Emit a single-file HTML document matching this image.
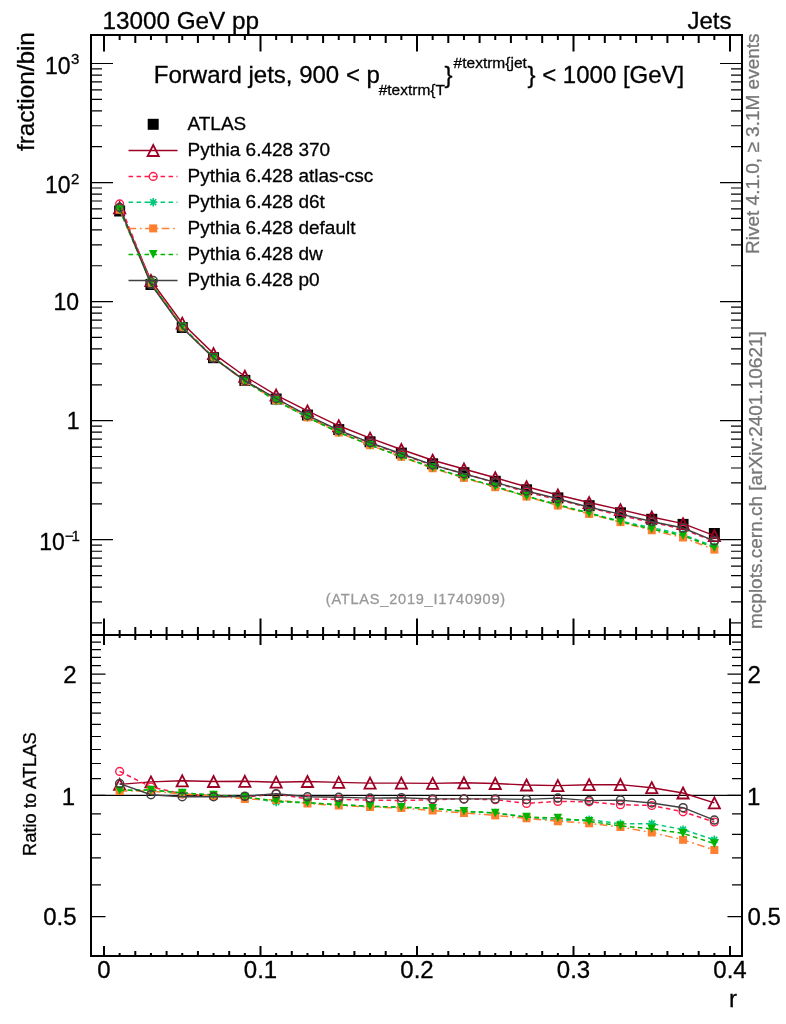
<!DOCTYPE html><html><head><meta charset="utf-8"><style>html,body{margin:0;padding:0;background:#fff;overflow:hidden}svg{display:block;will-change:transform}text{font-family:"Liberation Sans",sans-serif;stroke:#000;stroke-width:0.3px}</style></head><body>
<svg width="786" height="1024" viewBox="0 0 786 1024">
<rect width="786" height="1024" fill="#fff"/>
<path d="M104.00 35v16.5M104.00 635v-16.5M104.00 635v10M104.00 956v-10M119.65 35v5M119.65 635v-5M119.65 635v3M119.65 956v-3M135.30 35v8M135.30 635v-8M135.30 635v5M135.30 956v-5M150.95 35v5M150.95 635v-5M150.95 635v3M150.95 956v-3M166.60 35v8M166.60 635v-8M166.60 635v5M166.60 956v-5M182.25 35v5M182.25 635v-5M182.25 635v3M182.25 956v-3M197.90 35v8M197.90 635v-8M197.90 635v5M197.90 956v-5M213.55 35v5M213.55 635v-5M213.55 635v3M213.55 956v-3M229.20 35v8M229.20 635v-8M229.20 635v5M229.20 956v-5M244.85 35v5M244.85 635v-5M244.85 635v3M244.85 956v-3M260.50 35v16.5M260.50 635v-16.5M260.50 635v10M260.50 956v-10M276.15 35v5M276.15 635v-5M276.15 635v3M276.15 956v-3M291.80 35v8M291.80 635v-8M291.80 635v5M291.80 956v-5M307.45 35v5M307.45 635v-5M307.45 635v3M307.45 956v-3M323.10 35v8M323.10 635v-8M323.10 635v5M323.10 956v-5M338.75 35v5M338.75 635v-5M338.75 635v3M338.75 956v-3M354.40 35v8M354.40 635v-8M354.40 635v5M354.40 956v-5M370.05 35v5M370.05 635v-5M370.05 635v3M370.05 956v-3M385.70 35v8M385.70 635v-8M385.70 635v5M385.70 956v-5M401.35 35v5M401.35 635v-5M401.35 635v3M401.35 956v-3M417.00 35v16.5M417.00 635v-16.5M417.00 635v10M417.00 956v-10M432.65 35v5M432.65 635v-5M432.65 635v3M432.65 956v-3M448.30 35v8M448.30 635v-8M448.30 635v5M448.30 956v-5M463.95 35v5M463.95 635v-5M463.95 635v3M463.95 956v-3M479.60 35v8M479.60 635v-8M479.60 635v5M479.60 956v-5M495.25 35v5M495.25 635v-5M495.25 635v3M495.25 956v-3M510.90 35v8M510.90 635v-8M510.90 635v5M510.90 956v-5M526.55 35v5M526.55 635v-5M526.55 635v3M526.55 956v-3M542.20 35v8M542.20 635v-8M542.20 635v5M542.20 956v-5M557.85 35v5M557.85 635v-5M557.85 635v3M557.85 956v-3M573.50 35v16.5M573.50 635v-16.5M573.50 635v10M573.50 956v-10M589.15 35v5M589.15 635v-5M589.15 635v3M589.15 956v-3M604.80 35v8M604.80 635v-8M604.80 635v5M604.80 956v-5M620.45 35v5M620.45 635v-5M620.45 635v3M620.45 956v-3M636.10 35v8M636.10 635v-8M636.10 635v5M636.10 956v-5M651.75 35v5M651.75 635v-5M651.75 635v3M651.75 956v-3M667.40 35v8M667.40 635v-8M667.40 635v5M667.40 956v-5M683.05 35v5M683.05 635v-5M683.05 635v3M683.05 956v-3M698.70 35v8M698.70 635v-8M698.70 635v5M698.70 956v-5M714.35 35v5M714.35 635v-5M714.35 635v3M714.35 956v-3M730.00 35v16.5M730.00 635v-16.5M730.00 635v10M730.00 956v-10" stroke="#000" stroke-width="2" fill="none"/>
<path d="M91 622.91h11M742 622.91h-11M91 601.95h11M742 601.95h-11M91 587.07h11M742 587.07h-11M91 575.54h11M742 575.54h-11M91 566.11h11M742 566.11h-11M91 558.14h11M742 558.14h-11M91 551.24h11M742 551.24h-11M91 545.15h11M742 545.15h-11M91 539.70h22M742 539.70h-22M91 503.86h11M742 503.86h-11M91 482.90h11M742 482.90h-11M91 468.02h11M742 468.02h-11M91 456.49h11M742 456.49h-11M91 447.06h11M742 447.06h-11M91 439.09h11M742 439.09h-11M91 432.19h11M742 432.19h-11M91 426.10h11M742 426.10h-11M91 420.65h22M742 420.65h-22M91 384.81h11M742 384.81h-11M91 363.85h11M742 363.85h-11M91 348.97h11M742 348.97h-11M91 337.44h11M742 337.44h-11M91 328.01h11M742 328.01h-11M91 320.04h11M742 320.04h-11M91 313.14h11M742 313.14h-11M91 307.05h11M742 307.05h-11M91 301.60h22M742 301.60h-22M91 265.76h11M742 265.76h-11M91 244.80h11M742 244.80h-11M91 229.92h11M742 229.92h-11M91 218.39h11M742 218.39h-11M91 208.96h11M742 208.96h-11M91 200.99h11M742 200.99h-11M91 194.09h11M742 194.09h-11M91 188.00h11M742 188.00h-11M91 182.55h22M742 182.55h-22M91 146.71h11M742 146.71h-11M91 125.75h11M742 125.75h-11M91 110.87h11M742 110.87h-11M91 99.34h11M742 99.34h-11M91 89.91h11M742 89.91h-11M91 81.94h11M742 81.94h-11M91 75.04h11M742 75.04h-11M91 68.95h11M742 68.95h-11M91 63.50h22M742 63.50h-22M91 916.72h14.5M742 916.72h-14.5M91 884.81h10M742 884.81h-10M91 857.83h10M742 857.83h-10M91 834.45h10M742 834.45h-10M91 813.84h10M742 813.84h-10M91 795.40h14.5M742 795.40h-14.5M91 778.72h10M742 778.72h-10M91 763.49h10M742 763.49h-10M91 749.48h10M742 749.48h-10M91 736.51h10M742 736.51h-10M91 724.44h10M742 724.44h-10M91 713.14h10M742 713.14h-10M91 702.53h10M742 702.53h-10M91 692.53h10M742 692.53h-10M91 683.06h10M742 683.06h-10M91 674.08h14.5M742 674.08h-14.5M91 665.55h10M742 665.55h-10M91 657.40h10M742 657.40h-10M91 649.62h10M742 649.62h-10M91 642.17h10M742 642.17h-10" stroke="#000" stroke-width="1.2" fill="none"/>
<path d="M91 795.4H742" stroke="#000" stroke-width="1.2"/>
<g>
<rect x="114.15" y="205.50" width="11" height="11" fill="#000"/>
<rect x="145.45" y="279.00" width="11" height="11" fill="#000"/>
<rect x="176.75" y="322.00" width="11" height="11" fill="#000"/>
<rect x="208.05" y="352.20" width="11" height="11" fill="#000"/>
<rect x="239.35" y="374.90" width="11" height="11" fill="#000"/>
<rect x="270.65" y="393.50" width="11" height="11" fill="#000"/>
<rect x="301.95" y="409.50" width="11" height="11" fill="#000"/>
<rect x="333.25" y="424.10" width="11" height="11" fill="#000"/>
<rect x="364.55" y="436.30" width="11" height="11" fill="#000"/>
<rect x="395.85" y="447.60" width="11" height="11" fill="#000"/>
<rect x="427.15" y="458.30" width="11" height="11" fill="#000"/>
<rect x="458.45" y="467.20" width="11" height="11" fill="#000"/>
<rect x="489.75" y="475.80" width="11" height="11" fill="#000"/>
<rect x="521.05" y="484.30" width="11" height="11" fill="#000"/>
<rect x="552.35" y="492.40" width="11" height="11" fill="#000"/>
<rect x="583.65" y="500.20" width="11" height="11" fill="#000"/>
<rect x="614.95" y="507.30" width="11" height="11" fill="#000"/>
<rect x="646.25" y="513.80" width="11" height="11" fill="#000"/>
<rect x="677.55" y="518.90" width="11" height="11" fill="#000"/>
<rect x="708.85" y="528.00" width="11" height="11" fill="#000"/>
<polyline points="119.65,207.75 150.95,280.51 182.25,323.19 213.55,353.59 244.85,376.23 276.15,395.10 307.45,410.89 338.75,425.76 370.05,438.17 401.35,449.47 432.65,460.26 463.95,468.98 495.25,477.78 526.55,486.73 557.85,495.00 589.15,502.54 620.45,509.61 651.75,517.03 683.05,523.69 714.35,535.72" fill="none" stroke="#9c0024" stroke-width="1.4"/>
<path d="M119.65 202.25L125.25 213.25H114.05Z" fill="none" stroke="#9c0024" stroke-width="1.8" stroke-linejoin="miter"/>
<path d="M150.95 275.01L156.55 286.01H145.35Z" fill="none" stroke="#9c0024" stroke-width="1.8" stroke-linejoin="miter"/>
<path d="M182.25 317.69L187.85 328.69H176.65Z" fill="none" stroke="#9c0024" stroke-width="1.8" stroke-linejoin="miter"/>
<path d="M213.55 348.09L219.15 359.09H207.95Z" fill="none" stroke="#9c0024" stroke-width="1.8" stroke-linejoin="miter"/>
<path d="M244.85 370.73L250.45 381.73H239.25Z" fill="none" stroke="#9c0024" stroke-width="1.8" stroke-linejoin="miter"/>
<path d="M276.15 389.60L281.75 400.60H270.55Z" fill="none" stroke="#9c0024" stroke-width="1.8" stroke-linejoin="miter"/>
<path d="M307.45 405.39L313.05 416.39H301.85Z" fill="none" stroke="#9c0024" stroke-width="1.8" stroke-linejoin="miter"/>
<path d="M338.75 420.26L344.35 431.26H333.15Z" fill="none" stroke="#9c0024" stroke-width="1.8" stroke-linejoin="miter"/>
<path d="M370.05 432.67L375.65 443.67H364.45Z" fill="none" stroke="#9c0024" stroke-width="1.8" stroke-linejoin="miter"/>
<path d="M401.35 443.97L406.95 454.97H395.75Z" fill="none" stroke="#9c0024" stroke-width="1.8" stroke-linejoin="miter"/>
<path d="M432.65 454.76L438.25 465.76H427.05Z" fill="none" stroke="#9c0024" stroke-width="1.8" stroke-linejoin="miter"/>
<path d="M463.95 463.48L469.55 474.48H458.35Z" fill="none" stroke="#9c0024" stroke-width="1.8" stroke-linejoin="miter"/>
<path d="M495.25 472.28L500.85 483.28H489.65Z" fill="none" stroke="#9c0024" stroke-width="1.8" stroke-linejoin="miter"/>
<path d="M526.55 481.23L532.15 492.23H520.95Z" fill="none" stroke="#9c0024" stroke-width="1.8" stroke-linejoin="miter"/>
<path d="M557.85 489.50L563.45 500.50H552.25Z" fill="none" stroke="#9c0024" stroke-width="1.8" stroke-linejoin="miter"/>
<path d="M589.15 497.04L594.75 508.04H583.55Z" fill="none" stroke="#9c0024" stroke-width="1.8" stroke-linejoin="miter"/>
<path d="M620.45 504.11L626.05 515.11H614.85Z" fill="none" stroke="#9c0024" stroke-width="1.8" stroke-linejoin="miter"/>
<path d="M651.75 511.53L657.35 522.53H646.15Z" fill="none" stroke="#9c0024" stroke-width="1.8" stroke-linejoin="miter"/>
<path d="M683.05 518.19L688.65 529.19H677.45Z" fill="none" stroke="#9c0024" stroke-width="1.8" stroke-linejoin="miter"/>
<path d="M714.35 530.22L719.95 541.22H708.75Z" fill="none" stroke="#9c0024" stroke-width="1.8" stroke-linejoin="miter"/>
<polyline points="119.65,203.91 150.95,282.02 182.25,327.09 213.55,357.88 244.85,380.87 276.15,398.59 307.45,416.06 338.75,430.81 370.05,443.16 401.35,454.61 432.65,465.07 463.95,473.73 495.25,482.57 526.55,492.16 557.85,499.67 589.15,507.59 620.45,515.55 651.75,522.28 683.05,529.24 714.35,541.36" fill="none" stroke="#ff1a4a" stroke-width="1.5" stroke-dasharray="4.6 3.4"/>
<circle cx="119.65" cy="203.91" r="3.9" fill="none" stroke="#ff1a4a" stroke-width="1.4"/>
<circle cx="150.95" cy="282.02" r="3.9" fill="none" stroke="#ff1a4a" stroke-width="1.4"/>
<circle cx="182.25" cy="327.09" r="3.9" fill="none" stroke="#ff1a4a" stroke-width="1.4"/>
<circle cx="213.55" cy="357.88" r="3.9" fill="none" stroke="#ff1a4a" stroke-width="1.4"/>
<circle cx="244.85" cy="380.87" r="3.9" fill="none" stroke="#ff1a4a" stroke-width="1.4"/>
<circle cx="276.15" cy="398.59" r="3.9" fill="none" stroke="#ff1a4a" stroke-width="1.4"/>
<circle cx="307.45" cy="416.06" r="3.9" fill="none" stroke="#ff1a4a" stroke-width="1.4"/>
<circle cx="338.75" cy="430.81" r="3.9" fill="none" stroke="#ff1a4a" stroke-width="1.4"/>
<circle cx="370.05" cy="443.16" r="3.9" fill="none" stroke="#ff1a4a" stroke-width="1.4"/>
<circle cx="401.35" cy="454.61" r="3.9" fill="none" stroke="#ff1a4a" stroke-width="1.4"/>
<circle cx="432.65" cy="465.07" r="3.9" fill="none" stroke="#ff1a4a" stroke-width="1.4"/>
<circle cx="463.95" cy="473.73" r="3.9" fill="none" stroke="#ff1a4a" stroke-width="1.4"/>
<circle cx="495.25" cy="482.57" r="3.9" fill="none" stroke="#ff1a4a" stroke-width="1.4"/>
<circle cx="526.55" cy="492.16" r="3.9" fill="none" stroke="#ff1a4a" stroke-width="1.4"/>
<circle cx="557.85" cy="499.67" r="3.9" fill="none" stroke="#ff1a4a" stroke-width="1.4"/>
<circle cx="589.15" cy="507.59" r="3.9" fill="none" stroke="#ff1a4a" stroke-width="1.4"/>
<circle cx="620.45" cy="515.55" r="3.9" fill="none" stroke="#ff1a4a" stroke-width="1.4"/>
<circle cx="651.75" cy="522.28" r="3.9" fill="none" stroke="#ff1a4a" stroke-width="1.4"/>
<circle cx="683.05" cy="529.24" r="3.9" fill="none" stroke="#ff1a4a" stroke-width="1.4"/>
<circle cx="714.35" cy="541.36" r="3.9" fill="none" stroke="#ff1a4a" stroke-width="1.4"/>
<polyline points="119.65,209.55 150.95,282.90 182.25,326.79 213.55,357.58 244.85,380.87 276.15,400.95 307.45,417.16 338.75,432.35 370.05,445.02 401.35,456.59 432.65,467.61 463.95,477.40 495.25,486.50 526.55,496.21 557.85,505.29 589.15,512.85 620.45,521.19 651.75,527.63 683.05,534.50 714.35,546.62" fill="none" stroke="#00c878" stroke-width="1.5" stroke-dasharray="4.6 3.4"/>
<path d="M115.45 209.55h8.40M119.65 205.35v8.40M116.68 206.58l5.94 5.94M116.68 212.52l5.94 -5.94" stroke="#00c878" stroke-width="1.6"/>
<path d="M146.75 282.90h8.40M150.95 278.70v8.40M147.98 279.93l5.94 5.94M147.98 285.87l5.94 -5.94" stroke="#00c878" stroke-width="1.6"/>
<path d="M178.05 326.79h8.40M182.25 322.59v8.40M179.28 323.82l5.94 5.94M179.28 329.76l5.94 -5.94" stroke="#00c878" stroke-width="1.6"/>
<path d="M209.35 357.58h8.40M213.55 353.38v8.40M210.58 354.61l5.94 5.94M210.58 360.55l5.94 -5.94" stroke="#00c878" stroke-width="1.6"/>
<path d="M240.65 380.87h8.40M244.85 376.67v8.40M241.88 377.90l5.94 5.94M241.88 383.84l5.94 -5.94" stroke="#00c878" stroke-width="1.6"/>
<path d="M271.95 400.95h8.40M276.15 396.75v8.40M273.18 397.98l5.94 5.94M273.18 403.92l5.94 -5.94" stroke="#00c878" stroke-width="1.6"/>
<path d="M303.25 417.16h8.40M307.45 412.96v8.40M304.48 414.19l5.94 5.94M304.48 420.13l5.94 -5.94" stroke="#00c878" stroke-width="1.6"/>
<path d="M334.55 432.35h8.40M338.75 428.15v8.40M335.78 429.38l5.94 5.94M335.78 435.32l5.94 -5.94" stroke="#00c878" stroke-width="1.6"/>
<path d="M365.85 445.02h8.40M370.05 440.82v8.40M367.08 442.05l5.94 5.94M367.08 447.99l5.94 -5.94" stroke="#00c878" stroke-width="1.6"/>
<path d="M397.15 456.59h8.40M401.35 452.39v8.40M398.38 453.62l5.94 5.94M398.38 459.56l5.94 -5.94" stroke="#00c878" stroke-width="1.6"/>
<path d="M428.45 467.61h8.40M432.65 463.41v8.40M429.68 464.64l5.94 5.94M429.68 470.58l5.94 -5.94" stroke="#00c878" stroke-width="1.6"/>
<path d="M459.75 477.40h8.40M463.95 473.20v8.40M460.98 474.43l5.94 5.94M460.98 480.37l5.94 -5.94" stroke="#00c878" stroke-width="1.6"/>
<path d="M491.05 486.50h8.40M495.25 482.30v8.40M492.28 483.53l5.94 5.94M492.28 489.47l5.94 -5.94" stroke="#00c878" stroke-width="1.6"/>
<path d="M522.35 496.21h8.40M526.55 492.01v8.40M523.58 493.24l5.94 5.94M523.58 499.18l5.94 -5.94" stroke="#00c878" stroke-width="1.6"/>
<path d="M553.65 505.29h8.40M557.85 501.09v8.40M554.88 502.32l5.94 5.94M554.88 508.26l5.94 -5.94" stroke="#00c878" stroke-width="1.6"/>
<path d="M584.95 512.85h8.40M589.15 508.65v8.40M586.18 509.88l5.94 5.94M586.18 515.82l5.94 -5.94" stroke="#00c878" stroke-width="1.6"/>
<path d="M616.25 521.19h8.40M620.45 516.99v8.40M617.48 518.22l5.94 5.94M617.48 524.16l5.94 -5.94" stroke="#00c878" stroke-width="1.6"/>
<path d="M647.55 527.63h8.40M651.75 523.43v8.40M648.78 524.66l5.94 5.94M648.78 530.60l5.94 -5.94" stroke="#00c878" stroke-width="1.6"/>
<path d="M678.85 534.50h8.40M683.05 530.30v8.40M680.08 531.53l5.94 5.94M680.08 537.47l5.94 -5.94" stroke="#00c878" stroke-width="1.6"/>
<path d="M710.15 546.62h8.40M714.35 542.42v8.40M711.38 543.65l5.94 5.94M711.38 549.59l5.94 -5.94" stroke="#00c878" stroke-width="1.6"/>
<polyline points="119.65,209.70 150.95,283.20 182.25,327.09 213.55,357.88 244.85,381.46 276.15,400.36 307.45,417.39 338.75,432.58 370.05,445.23 401.35,456.82 432.65,468.26 463.95,477.90 495.25,487.21 526.55,496.56 557.85,505.55 589.15,513.94 620.45,522.13 651.75,530.26 683.05,537.52 714.35,549.63" fill="none" stroke="#ff7f30" stroke-width="1.5" stroke-dasharray="7.7 3.8 1.7 3.4"/>
<rect x="115.65" y="205.70" width="8" height="8" fill="#ff7f30"/>
<rect x="146.95" y="279.20" width="8" height="8" fill="#ff7f30"/>
<rect x="178.25" y="323.09" width="8" height="8" fill="#ff7f30"/>
<rect x="209.55" y="353.88" width="8" height="8" fill="#ff7f30"/>
<rect x="240.85" y="377.46" width="8" height="8" fill="#ff7f30"/>
<rect x="272.15" y="396.36" width="8" height="8" fill="#ff7f30"/>
<rect x="303.45" y="413.39" width="8" height="8" fill="#ff7f30"/>
<rect x="334.75" y="428.58" width="8" height="8" fill="#ff7f30"/>
<rect x="366.05" y="441.23" width="8" height="8" fill="#ff7f30"/>
<rect x="397.35" y="452.82" width="8" height="8" fill="#ff7f30"/>
<rect x="428.65" y="464.26" width="8" height="8" fill="#ff7f30"/>
<rect x="459.95" y="473.90" width="8" height="8" fill="#ff7f30"/>
<rect x="491.25" y="483.21" width="8" height="8" fill="#ff7f30"/>
<rect x="522.55" y="492.56" width="8" height="8" fill="#ff7f30"/>
<rect x="553.85" y="501.55" width="8" height="8" fill="#ff7f30"/>
<rect x="585.15" y="509.94" width="8" height="8" fill="#ff7f30"/>
<rect x="616.45" y="518.13" width="8" height="8" fill="#ff7f30"/>
<rect x="647.75" y="526.26" width="8" height="8" fill="#ff7f30"/>
<rect x="679.05" y="533.52" width="8" height="8" fill="#ff7f30"/>
<rect x="710.35" y="545.63" width="8" height="8" fill="#ff7f30"/>
<polyline points="119.65,209.55 150.95,282.90 182.25,326.79 213.55,357.58 244.85,380.87 276.15,400.65 307.45,417.16 338.75,432.35 370.05,445.02 401.35,456.59 432.65,467.61 463.95,477.40 495.25,486.50 526.55,496.21 557.85,504.58 589.15,513.35 620.45,521.81 651.75,529.17 683.05,535.63 714.35,547.74" fill="none" stroke="#00b400" stroke-width="1.5" stroke-dasharray="4.6 3.4"/>
<path d="M115.35 205.25H123.95L119.65 213.85Z" fill="#00b400"/>
<path d="M146.65 278.60H155.25L150.95 287.20Z" fill="#00b400"/>
<path d="M177.95 322.49H186.55L182.25 331.09Z" fill="#00b400"/>
<path d="M209.25 353.28H217.85L213.55 361.88Z" fill="#00b400"/>
<path d="M240.55 376.57H249.15L244.85 385.17Z" fill="#00b400"/>
<path d="M271.85 396.35H280.45L276.15 404.95Z" fill="#00b400"/>
<path d="M303.15 412.86H311.75L307.45 421.46Z" fill="#00b400"/>
<path d="M334.45 428.05H343.05L338.75 436.65Z" fill="#00b400"/>
<path d="M365.75 440.72H374.35L370.05 449.32Z" fill="#00b400"/>
<path d="M397.05 452.29H405.65L401.35 460.89Z" fill="#00b400"/>
<path d="M428.35 463.31H436.95L432.65 471.91Z" fill="#00b400"/>
<path d="M459.65 473.10H468.25L463.95 481.70Z" fill="#00b400"/>
<path d="M490.95 482.20H499.55L495.25 490.80Z" fill="#00b400"/>
<path d="M522.25 491.91H530.85L526.55 500.51Z" fill="#00b400"/>
<path d="M553.55 500.28H562.15L557.85 508.88Z" fill="#00b400"/>
<path d="M584.85 509.05H593.45L589.15 517.65Z" fill="#00b400"/>
<path d="M616.15 517.51H624.75L620.45 526.11Z" fill="#00b400"/>
<path d="M647.45 524.87H656.05L651.75 533.47Z" fill="#00b400"/>
<path d="M678.75 531.33H687.35L683.05 539.93Z" fill="#00b400"/>
<path d="M710.05 543.44H718.65L714.35 552.04Z" fill="#00b400"/>
<polyline points="119.65,207.51 150.95,284.29 182.25,327.88 213.55,358.08 244.85,380.67 276.15,398.50 307.45,415.41 338.75,430.16 370.05,442.60 401.35,453.78 432.65,464.83 463.95,473.73 495.25,482.33 526.55,490.98 557.85,498.70 589.15,507.24 620.45,514.19 651.75,521.55 683.05,528.03 714.35,540.80" fill="none" stroke="#404040" stroke-width="1.4"/>
<circle cx="119.65" cy="207.51" r="4.0" fill="none" stroke="#404040" stroke-width="1.5"/>
<circle cx="150.95" cy="284.29" r="4.0" fill="none" stroke="#404040" stroke-width="1.5"/>
<circle cx="182.25" cy="327.88" r="4.0" fill="none" stroke="#404040" stroke-width="1.5"/>
<circle cx="213.55" cy="358.08" r="4.0" fill="none" stroke="#404040" stroke-width="1.5"/>
<circle cx="244.85" cy="380.67" r="4.0" fill="none" stroke="#404040" stroke-width="1.5"/>
<circle cx="276.15" cy="398.50" r="4.0" fill="none" stroke="#404040" stroke-width="1.5"/>
<circle cx="307.45" cy="415.41" r="4.0" fill="none" stroke="#404040" stroke-width="1.5"/>
<circle cx="338.75" cy="430.16" r="4.0" fill="none" stroke="#404040" stroke-width="1.5"/>
<circle cx="370.05" cy="442.60" r="4.0" fill="none" stroke="#404040" stroke-width="1.5"/>
<circle cx="401.35" cy="453.78" r="4.0" fill="none" stroke="#404040" stroke-width="1.5"/>
<circle cx="432.65" cy="464.83" r="4.0" fill="none" stroke="#404040" stroke-width="1.5"/>
<circle cx="463.95" cy="473.73" r="4.0" fill="none" stroke="#404040" stroke-width="1.5"/>
<circle cx="495.25" cy="482.33" r="4.0" fill="none" stroke="#404040" stroke-width="1.5"/>
<circle cx="526.55" cy="490.98" r="4.0" fill="none" stroke="#404040" stroke-width="1.5"/>
<circle cx="557.85" cy="498.70" r="4.0" fill="none" stroke="#404040" stroke-width="1.5"/>
<circle cx="589.15" cy="507.24" r="4.0" fill="none" stroke="#404040" stroke-width="1.5"/>
<circle cx="620.45" cy="514.19" r="4.0" fill="none" stroke="#404040" stroke-width="1.5"/>
<circle cx="651.75" cy="521.55" r="4.0" fill="none" stroke="#404040" stroke-width="1.5"/>
<circle cx="683.05" cy="528.03" r="4.0" fill="none" stroke="#404040" stroke-width="1.5"/>
<circle cx="714.35" cy="540.80" r="4.0" fill="none" stroke="#404040" stroke-width="1.5"/>
<polyline points="119.65,784.40 150.95,781.90 182.25,780.80 213.55,781.50 244.85,781.30 276.15,782.20 307.45,781.50 338.75,782.40 370.05,783.10 401.35,783.10 432.65,783.40 463.95,782.80 495.25,783.50 526.55,785.00 557.85,785.60 589.15,784.70 620.45,784.60 651.75,787.70 683.05,793.00 714.35,802.90" fill="none" stroke="#9c0024" stroke-width="1.4"/>
<path d="M119.65 778.90L125.25 789.90H114.05Z" fill="none" stroke="#9c0024" stroke-width="1.8" stroke-linejoin="miter"/>
<path d="M150.95 776.40L156.55 787.40H145.35Z" fill="none" stroke="#9c0024" stroke-width="1.8" stroke-linejoin="miter"/>
<path d="M182.25 775.30L187.85 786.30H176.65Z" fill="none" stroke="#9c0024" stroke-width="1.8" stroke-linejoin="miter"/>
<path d="M213.55 776.00L219.15 787.00H207.95Z" fill="none" stroke="#9c0024" stroke-width="1.8" stroke-linejoin="miter"/>
<path d="M244.85 775.80L250.45 786.80H239.25Z" fill="none" stroke="#9c0024" stroke-width="1.8" stroke-linejoin="miter"/>
<path d="M276.15 776.70L281.75 787.70H270.55Z" fill="none" stroke="#9c0024" stroke-width="1.8" stroke-linejoin="miter"/>
<path d="M307.45 776.00L313.05 787.00H301.85Z" fill="none" stroke="#9c0024" stroke-width="1.8" stroke-linejoin="miter"/>
<path d="M338.75 776.90L344.35 787.90H333.15Z" fill="none" stroke="#9c0024" stroke-width="1.8" stroke-linejoin="miter"/>
<path d="M370.05 777.60L375.65 788.60H364.45Z" fill="none" stroke="#9c0024" stroke-width="1.8" stroke-linejoin="miter"/>
<path d="M401.35 777.60L406.95 788.60H395.75Z" fill="none" stroke="#9c0024" stroke-width="1.8" stroke-linejoin="miter"/>
<path d="M432.65 777.90L438.25 788.90H427.05Z" fill="none" stroke="#9c0024" stroke-width="1.8" stroke-linejoin="miter"/>
<path d="M463.95 777.30L469.55 788.30H458.35Z" fill="none" stroke="#9c0024" stroke-width="1.8" stroke-linejoin="miter"/>
<path d="M495.25 778.00L500.85 789.00H489.65Z" fill="none" stroke="#9c0024" stroke-width="1.8" stroke-linejoin="miter"/>
<path d="M526.55 779.50L532.15 790.50H520.95Z" fill="none" stroke="#9c0024" stroke-width="1.8" stroke-linejoin="miter"/>
<path d="M557.85 780.10L563.45 791.10H552.25Z" fill="none" stroke="#9c0024" stroke-width="1.8" stroke-linejoin="miter"/>
<path d="M589.15 779.20L594.75 790.20H583.55Z" fill="none" stroke="#9c0024" stroke-width="1.8" stroke-linejoin="miter"/>
<path d="M620.45 779.10L626.05 790.10H614.85Z" fill="none" stroke="#9c0024" stroke-width="1.8" stroke-linejoin="miter"/>
<path d="M651.75 782.20L657.35 793.20H646.15Z" fill="none" stroke="#9c0024" stroke-width="1.8" stroke-linejoin="miter"/>
<path d="M683.05 787.50L688.65 798.50H677.45Z" fill="none" stroke="#9c0024" stroke-width="1.8" stroke-linejoin="miter"/>
<path d="M714.35 797.40L719.95 808.40H708.75Z" fill="none" stroke="#9c0024" stroke-width="1.8" stroke-linejoin="miter"/>
<polyline points="119.65,771.40 150.95,787.00 182.25,794.00 213.55,796.00 244.85,797.00 276.15,794.00 307.45,799.00 338.75,799.50 370.05,800.00 401.35,800.50 432.65,799.70 463.95,798.90 495.25,799.70 526.55,803.40 557.85,801.40 589.15,801.80 620.45,804.70 651.75,805.50 683.05,811.80 714.35,822.00" fill="none" stroke="#ff1a4a" stroke-width="1.5" stroke-dasharray="4.6 3.4"/>
<circle cx="119.65" cy="771.40" r="3.9" fill="none" stroke="#ff1a4a" stroke-width="1.4"/>
<circle cx="150.95" cy="787.00" r="3.9" fill="none" stroke="#ff1a4a" stroke-width="1.4"/>
<circle cx="182.25" cy="794.00" r="3.9" fill="none" stroke="#ff1a4a" stroke-width="1.4"/>
<circle cx="213.55" cy="796.00" r="3.9" fill="none" stroke="#ff1a4a" stroke-width="1.4"/>
<circle cx="244.85" cy="797.00" r="3.9" fill="none" stroke="#ff1a4a" stroke-width="1.4"/>
<circle cx="276.15" cy="794.00" r="3.9" fill="none" stroke="#ff1a4a" stroke-width="1.4"/>
<circle cx="307.45" cy="799.00" r="3.9" fill="none" stroke="#ff1a4a" stroke-width="1.4"/>
<circle cx="338.75" cy="799.50" r="3.9" fill="none" stroke="#ff1a4a" stroke-width="1.4"/>
<circle cx="370.05" cy="800.00" r="3.9" fill="none" stroke="#ff1a4a" stroke-width="1.4"/>
<circle cx="401.35" cy="800.50" r="3.9" fill="none" stroke="#ff1a4a" stroke-width="1.4"/>
<circle cx="432.65" cy="799.70" r="3.9" fill="none" stroke="#ff1a4a" stroke-width="1.4"/>
<circle cx="463.95" cy="798.90" r="3.9" fill="none" stroke="#ff1a4a" stroke-width="1.4"/>
<circle cx="495.25" cy="799.70" r="3.9" fill="none" stroke="#ff1a4a" stroke-width="1.4"/>
<circle cx="526.55" cy="803.40" r="3.9" fill="none" stroke="#ff1a4a" stroke-width="1.4"/>
<circle cx="557.85" cy="801.40" r="3.9" fill="none" stroke="#ff1a4a" stroke-width="1.4"/>
<circle cx="589.15" cy="801.80" r="3.9" fill="none" stroke="#ff1a4a" stroke-width="1.4"/>
<circle cx="620.45" cy="804.70" r="3.9" fill="none" stroke="#ff1a4a" stroke-width="1.4"/>
<circle cx="651.75" cy="805.50" r="3.9" fill="none" stroke="#ff1a4a" stroke-width="1.4"/>
<circle cx="683.05" cy="811.80" r="3.9" fill="none" stroke="#ff1a4a" stroke-width="1.4"/>
<circle cx="714.35" cy="822.00" r="3.9" fill="none" stroke="#ff1a4a" stroke-width="1.4"/>
<polyline points="119.65,790.50 150.95,790.00 182.25,793.00 213.55,795.00 244.85,797.00 276.15,802.00 307.45,802.70 338.75,804.70 370.05,806.30 401.35,807.20 432.65,808.30 463.95,811.30 495.25,813.00 526.55,817.10 557.85,820.40 589.15,819.60 620.45,823.80 651.75,823.60 683.05,829.60 714.35,839.80" fill="none" stroke="#00c878" stroke-width="1.5" stroke-dasharray="4.6 3.4"/>
<path d="M115.45 790.50h8.40M119.65 786.30v8.40M116.68 787.53l5.94 5.94M116.68 793.47l5.94 -5.94" stroke="#00c878" stroke-width="1.6"/>
<path d="M146.75 790.00h8.40M150.95 785.80v8.40M147.98 787.03l5.94 5.94M147.98 792.97l5.94 -5.94" stroke="#00c878" stroke-width="1.6"/>
<path d="M178.05 793.00h8.40M182.25 788.80v8.40M179.28 790.03l5.94 5.94M179.28 795.97l5.94 -5.94" stroke="#00c878" stroke-width="1.6"/>
<path d="M209.35 795.00h8.40M213.55 790.80v8.40M210.58 792.03l5.94 5.94M210.58 797.97l5.94 -5.94" stroke="#00c878" stroke-width="1.6"/>
<path d="M240.65 797.00h8.40M244.85 792.80v8.40M241.88 794.03l5.94 5.94M241.88 799.97l5.94 -5.94" stroke="#00c878" stroke-width="1.6"/>
<path d="M271.95 802.00h8.40M276.15 797.80v8.40M273.18 799.03l5.94 5.94M273.18 804.97l5.94 -5.94" stroke="#00c878" stroke-width="1.6"/>
<path d="M303.25 802.70h8.40M307.45 798.50v8.40M304.48 799.73l5.94 5.94M304.48 805.67l5.94 -5.94" stroke="#00c878" stroke-width="1.6"/>
<path d="M334.55 804.70h8.40M338.75 800.50v8.40M335.78 801.73l5.94 5.94M335.78 807.67l5.94 -5.94" stroke="#00c878" stroke-width="1.6"/>
<path d="M365.85 806.30h8.40M370.05 802.10v8.40M367.08 803.33l5.94 5.94M367.08 809.27l5.94 -5.94" stroke="#00c878" stroke-width="1.6"/>
<path d="M397.15 807.20h8.40M401.35 803.00v8.40M398.38 804.23l5.94 5.94M398.38 810.17l5.94 -5.94" stroke="#00c878" stroke-width="1.6"/>
<path d="M428.45 808.30h8.40M432.65 804.10v8.40M429.68 805.33l5.94 5.94M429.68 811.27l5.94 -5.94" stroke="#00c878" stroke-width="1.6"/>
<path d="M459.75 811.30h8.40M463.95 807.10v8.40M460.98 808.33l5.94 5.94M460.98 814.27l5.94 -5.94" stroke="#00c878" stroke-width="1.6"/>
<path d="M491.05 813.00h8.40M495.25 808.80v8.40M492.28 810.03l5.94 5.94M492.28 815.97l5.94 -5.94" stroke="#00c878" stroke-width="1.6"/>
<path d="M522.35 817.10h8.40M526.55 812.90v8.40M523.58 814.13l5.94 5.94M523.58 820.07l5.94 -5.94" stroke="#00c878" stroke-width="1.6"/>
<path d="M553.65 820.40h8.40M557.85 816.20v8.40M554.88 817.43l5.94 5.94M554.88 823.37l5.94 -5.94" stroke="#00c878" stroke-width="1.6"/>
<path d="M584.95 819.60h8.40M589.15 815.40v8.40M586.18 816.63l5.94 5.94M586.18 822.57l5.94 -5.94" stroke="#00c878" stroke-width="1.6"/>
<path d="M616.25 823.80h8.40M620.45 819.60v8.40M617.48 820.83l5.94 5.94M617.48 826.77l5.94 -5.94" stroke="#00c878" stroke-width="1.6"/>
<path d="M647.55 823.60h8.40M651.75 819.40v8.40M648.78 820.63l5.94 5.94M648.78 826.57l5.94 -5.94" stroke="#00c878" stroke-width="1.6"/>
<path d="M678.85 829.60h8.40M683.05 825.40v8.40M680.08 826.63l5.94 5.94M680.08 832.57l5.94 -5.94" stroke="#00c878" stroke-width="1.6"/>
<path d="M710.15 839.80h8.40M714.35 835.60v8.40M711.38 836.83l5.94 5.94M711.38 842.77l5.94 -5.94" stroke="#00c878" stroke-width="1.6"/>
<polyline points="119.65,791.00 150.95,791.00 182.25,794.00 213.55,796.00 244.85,799.00 276.15,800.00 307.45,803.50 338.75,805.50 370.05,807.00 401.35,808.00 432.65,810.50 463.95,813.00 495.25,815.40 526.55,818.30 557.85,821.30 589.15,823.30 620.45,827.00 651.75,832.50 683.05,839.80 714.35,850.00" fill="none" stroke="#ff7f30" stroke-width="1.5" stroke-dasharray="7.7 3.8 1.7 3.4"/>
<rect x="115.65" y="787.00" width="8" height="8" fill="#ff7f30"/>
<rect x="146.95" y="787.00" width="8" height="8" fill="#ff7f30"/>
<rect x="178.25" y="790.00" width="8" height="8" fill="#ff7f30"/>
<rect x="209.55" y="792.00" width="8" height="8" fill="#ff7f30"/>
<rect x="240.85" y="795.00" width="8" height="8" fill="#ff7f30"/>
<rect x="272.15" y="796.00" width="8" height="8" fill="#ff7f30"/>
<rect x="303.45" y="799.50" width="8" height="8" fill="#ff7f30"/>
<rect x="334.75" y="801.50" width="8" height="8" fill="#ff7f30"/>
<rect x="366.05" y="803.00" width="8" height="8" fill="#ff7f30"/>
<rect x="397.35" y="804.00" width="8" height="8" fill="#ff7f30"/>
<rect x="428.65" y="806.50" width="8" height="8" fill="#ff7f30"/>
<rect x="459.95" y="809.00" width="8" height="8" fill="#ff7f30"/>
<rect x="491.25" y="811.40" width="8" height="8" fill="#ff7f30"/>
<rect x="522.55" y="814.30" width="8" height="8" fill="#ff7f30"/>
<rect x="553.85" y="817.30" width="8" height="8" fill="#ff7f30"/>
<rect x="585.15" y="819.30" width="8" height="8" fill="#ff7f30"/>
<rect x="616.45" y="823.00" width="8" height="8" fill="#ff7f30"/>
<rect x="647.75" y="828.50" width="8" height="8" fill="#ff7f30"/>
<rect x="679.05" y="835.80" width="8" height="8" fill="#ff7f30"/>
<rect x="710.35" y="846.00" width="8" height="8" fill="#ff7f30"/>
<polyline points="119.65,790.50 150.95,790.00 182.25,793.00 213.55,795.00 244.85,797.00 276.15,801.00 307.45,802.70 338.75,804.70 370.05,806.30 401.35,807.20 432.65,808.30 463.95,811.30 495.25,813.00 526.55,817.10 557.85,818.00 589.15,821.30 620.45,825.90 651.75,828.80 683.05,833.40 714.35,843.60" fill="none" stroke="#00b400" stroke-width="1.5" stroke-dasharray="4.6 3.4"/>
<path d="M115.35 786.20H123.95L119.65 794.80Z" fill="#00b400"/>
<path d="M146.65 785.70H155.25L150.95 794.30Z" fill="#00b400"/>
<path d="M177.95 788.70H186.55L182.25 797.30Z" fill="#00b400"/>
<path d="M209.25 790.70H217.85L213.55 799.30Z" fill="#00b400"/>
<path d="M240.55 792.70H249.15L244.85 801.30Z" fill="#00b400"/>
<path d="M271.85 796.70H280.45L276.15 805.30Z" fill="#00b400"/>
<path d="M303.15 798.40H311.75L307.45 807.00Z" fill="#00b400"/>
<path d="M334.45 800.40H343.05L338.75 809.00Z" fill="#00b400"/>
<path d="M365.75 802.00H374.35L370.05 810.60Z" fill="#00b400"/>
<path d="M397.05 802.90H405.65L401.35 811.50Z" fill="#00b400"/>
<path d="M428.35 804.00H436.95L432.65 812.60Z" fill="#00b400"/>
<path d="M459.65 807.00H468.25L463.95 815.60Z" fill="#00b400"/>
<path d="M490.95 808.70H499.55L495.25 817.30Z" fill="#00b400"/>
<path d="M522.25 812.80H530.85L526.55 821.40Z" fill="#00b400"/>
<path d="M553.55 813.70H562.15L557.85 822.30Z" fill="#00b400"/>
<path d="M584.85 817.00H593.45L589.15 825.60Z" fill="#00b400"/>
<path d="M616.15 821.60H624.75L620.45 830.20Z" fill="#00b400"/>
<path d="M647.45 824.50H656.05L651.75 833.10Z" fill="#00b400"/>
<path d="M678.75 829.10H687.35L683.05 837.70Z" fill="#00b400"/>
<path d="M710.05 839.30H718.65L714.35 847.90Z" fill="#00b400"/>
<polyline points="119.65,783.60 150.95,794.70 182.25,796.70 213.55,796.70 244.85,796.30 276.15,793.70 307.45,796.80 338.75,797.30 370.05,798.10 401.35,797.70 432.65,798.90 463.95,798.90 495.25,798.90 526.55,799.40 557.85,798.10 589.15,800.60 620.45,800.10 651.75,803.00 683.05,807.70 714.35,820.10" fill="none" stroke="#404040" stroke-width="1.4"/>
<circle cx="119.65" cy="783.60" r="4.0" fill="none" stroke="#404040" stroke-width="1.5"/>
<circle cx="150.95" cy="794.70" r="4.0" fill="none" stroke="#404040" stroke-width="1.5"/>
<circle cx="182.25" cy="796.70" r="4.0" fill="none" stroke="#404040" stroke-width="1.5"/>
<circle cx="213.55" cy="796.70" r="4.0" fill="none" stroke="#404040" stroke-width="1.5"/>
<circle cx="244.85" cy="796.30" r="4.0" fill="none" stroke="#404040" stroke-width="1.5"/>
<circle cx="276.15" cy="793.70" r="4.0" fill="none" stroke="#404040" stroke-width="1.5"/>
<circle cx="307.45" cy="796.80" r="4.0" fill="none" stroke="#404040" stroke-width="1.5"/>
<circle cx="338.75" cy="797.30" r="4.0" fill="none" stroke="#404040" stroke-width="1.5"/>
<circle cx="370.05" cy="798.10" r="4.0" fill="none" stroke="#404040" stroke-width="1.5"/>
<circle cx="401.35" cy="797.70" r="4.0" fill="none" stroke="#404040" stroke-width="1.5"/>
<circle cx="432.65" cy="798.90" r="4.0" fill="none" stroke="#404040" stroke-width="1.5"/>
<circle cx="463.95" cy="798.90" r="4.0" fill="none" stroke="#404040" stroke-width="1.5"/>
<circle cx="495.25" cy="798.90" r="4.0" fill="none" stroke="#404040" stroke-width="1.5"/>
<circle cx="526.55" cy="799.40" r="4.0" fill="none" stroke="#404040" stroke-width="1.5"/>
<circle cx="557.85" cy="798.10" r="4.0" fill="none" stroke="#404040" stroke-width="1.5"/>
<circle cx="589.15" cy="800.60" r="4.0" fill="none" stroke="#404040" stroke-width="1.5"/>
<circle cx="620.45" cy="800.10" r="4.0" fill="none" stroke="#404040" stroke-width="1.5"/>
<circle cx="651.75" cy="803.00" r="4.0" fill="none" stroke="#404040" stroke-width="1.5"/>
<circle cx="683.05" cy="807.70" r="4.0" fill="none" stroke="#404040" stroke-width="1.5"/>
<circle cx="714.35" cy="820.10" r="4.0" fill="none" stroke="#404040" stroke-width="1.5"/>
</g>
<rect x="147.70" y="118.80" width="11" height="11" fill="#000"/>
<path d="M128.5 150.5H177.5" stroke="#9c0024" stroke-width="1.4"/>
<path d="M153.20 145.00L158.80 156.00H147.60Z" fill="none" stroke="#9c0024" stroke-width="1.8" stroke-linejoin="miter"/>
<path d="M128.5 176.4H177.5" stroke="#ff1a4a" stroke-width="1.5" stroke-dasharray="4.6 3.4"/>
<circle cx="153.20" cy="176.40" r="3.9" fill="none" stroke="#ff1a4a" stroke-width="1.4"/>
<path d="M128.5 202.2H177.5" stroke="#00c878" stroke-width="1.5" stroke-dasharray="4.6 3.4"/>
<path d="M149.00 202.20h8.40M153.20 198.00v8.40M150.23 199.23l5.94 5.94M150.23 205.17l5.94 -5.94" stroke="#00c878" stroke-width="1.6"/>
<path d="M128.5 228.4H177.5" stroke="#ff7f30" stroke-width="1.5" stroke-dasharray="7.7 3.8 1.7 3.4"/>
<rect x="149.20" y="224.40" width="8" height="8" fill="#ff7f30"/>
<path d="M128.5 254.4H177.5" stroke="#00b400" stroke-width="1.5" stroke-dasharray="4.6 3.4"/>
<path d="M148.90 250.10H157.50L153.20 258.70Z" fill="#00b400"/>
<path d="M128.5 280.5H177.5" stroke="#404040" stroke-width="1.4"/>
<circle cx="153.20" cy="280.50" r="4.0" fill="none" stroke="#404040" stroke-width="1.5"/>
<text x="187.5" y="129.9" font-size="19">ATLAS</text>
<text x="187.5" y="156.1" font-size="19">Pythia 6.428 370</text>
<text x="187.5" y="182.0" font-size="19">Pythia 6.428 atlas-csc</text>
<text x="187.5" y="207.8" font-size="19">Pythia 6.428 d6t</text>
<text x="187.5" y="234.0" font-size="19">Pythia 6.428 default</text>
<text x="187.5" y="260.0" font-size="19">Pythia 6.428 dw</text>
<text x="187.5" y="286.1" font-size="19">Pythia 6.428 p0</text>
<path d="M91 35H742V956H91Z M91 635H742" stroke="#000" stroke-width="2" fill="none"/>
<text x="102.4" y="29.1" font-size="24.3">13000 GeV pp</text>
<text x="731.5" y="29" font-size="24" text-anchor="end">Jets</text>
<text x="153.8" y="83" font-size="24">Forward jets, 900 &lt; p</text>
<text x="378.7" y="94.7" font-size="15.5">#textrm{T</text>
<text x="444.5" y="83" font-size="24">}</text>
<text x="453.6" y="67.9" font-size="15.5">#textrm{jet</text>
<text x="527.5" y="83" font-size="24">} &lt; 1000 [GeV]</text>
<text transform="translate(34.4 151) rotate(-90)" font-size="24.3">fraction/bin</text>
<text x="70.5" y="74" font-size="23" text-anchor="end">10</text><text x="71" y="64" font-size="15">3</text>
<text x="70.5" y="192.8" font-size="23" text-anchor="end">10</text><text x="71" y="183.8" font-size="15">2</text>
<text x="79" y="309.8" font-size="23" text-anchor="end">10</text>
<text x="79.5" y="428.9" font-size="23" text-anchor="end">1</text>
<text x="64.8" y="550.1" font-size="23" text-anchor="end">10</text><text x="65" y="540.8" font-size="15">−</text><text x="71.5" y="540.8" font-size="15">1</text>
<text x="76.5" y="683" font-size="24" text-anchor="end">2</text>
<text x="75" y="805" font-size="24" text-anchor="end">1</text>
<text x="76.5" y="925.3" font-size="24" text-anchor="end">0.5</text>
<text x="747.5" y="683" font-size="24">2</text>
<text x="747" y="805" font-size="24">1</text>
<text x="747.5" y="925.3" font-size="24">0.5</text>
<text x="104.00" y="978.3" font-size="24" text-anchor="middle">0</text>
<text x="260.50" y="978.3" font-size="24" text-anchor="middle">0.1</text>
<text x="417.00" y="978.3" font-size="24" text-anchor="middle">0.2</text>
<text x="573.50" y="978.3" font-size="24" text-anchor="middle">0.3</text>
<text x="730.00" y="978.3" font-size="24" text-anchor="middle">0.4</text>
<text x="737" y="1006.5" font-size="24" text-anchor="end">r</text>
<text transform="translate(36.3 856) rotate(-90)" font-size="18.3">Ratio to ATLAS</text>
<text x="325.8" y="603.7" font-size="14.5" letter-spacing="0.8" style="fill:#999;stroke:#999">(ATLAS_2019_I1740909)</text>
<text transform="translate(759.3 254) rotate(-90)" font-size="19" style="fill:#777;stroke:#777">Rivet 4.1.0, ≥ 3.1M events</text>
<text transform="translate(761.8 629) rotate(-90)" font-size="19" style="fill:#777;stroke:#777">mcplots.cern.ch [arXiv:2401.10621]</text>
</svg></body></html>
